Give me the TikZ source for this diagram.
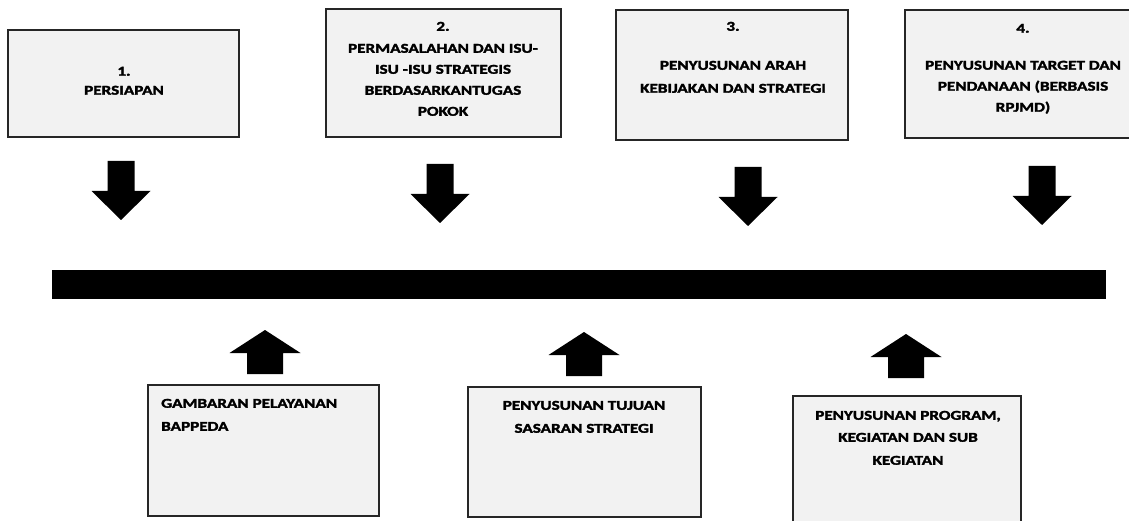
\documentclass[tikz,border=0pt]{standalone}
\usepackage{fontspec}
\newfontfamily\boxfont[FakeStretch=1.27,FakeBold=2.2]{Carlito}
\begin{document}
\begin{tikzpicture}[x=1pt,y=-1pt,
  box/.style={draw=black!85,line width=1.6pt,fill=black!5,inner sep=0pt},
  lbl/.style={font=\boxfont\bfseries\fontsize{13.5}{21}\selectfont,align=center,inner sep=0pt,anchor=north,text=black},
  lbll/.style={lbl,align=left,anchor=north west},
  downarrow/.pic={\fill[black] (-13.5,0) -- (13.5,0) -- (13.5,30) -- (29.5,30) -- (0,59) -- (-29.5,30) -- (-13.5,30) -- cycle;},
  uparrow/.pic={\fill[black] (0,0) -- (35.5,23) -- (18,23) -- (18,44) -- (-18,44) -- (-18,23) -- (-35.5,23) -- cycle;}
]
\useasboundingbox[fill=white] (0,0) rectangle (1129,521);

% top boxes
\node[box,minimum width=231pt,minimum height=107pt] (b1) at (123.5,83.5) {};
\node[box,minimum width=235pt,minimum height=128pt] (b2) at (443.5,73) {};
\node[box,minimum width=232pt,minimum height=130pt] (b3) at (732,75) {};
\node[box,minimum width=236pt,minimum height=128pt] (b4) at (1023,74) {};

\node[lbl] (t1) at (124,66.7) {1.\\[-2pt]PERSIAPAN};
\node[lbl] (t2) at (443,21.7) {2.\\[1pt]PERMASALAHAN DAN ISU-\\ISU -ISU STRATEGIS\\BERDASARKANTUGAS\\POKOK};
\node[lbl] (t3) at (733,21.7) {3.\\[18pt]PENYUSUNAN ARAH\\[2pt]KEBIJAKAN DAN STRATEGI};
\node[lbl] (t4) at (1023,23.7) {4.\\[16pt]PENYUSUNAN TARGET DAN\\PENDANAAN (BERBASIS\\RPJMD)};

% down arrows
\pic (d1) at (121,161) {downarrow};
\pic (d2) at (440,164) {downarrow};
\pic (d3) at (748,167) {downarrow};
\pic (d4) at (1042,166) {downarrow};

% bar
\node[fill=black,minimum width=1054pt,minimum height=29pt,inner sep=0pt] (bar) at (579,284.5) {};

% up arrows
\pic (u1) at (265,330) {uparrow};
\pic (u2) at (584,332) {uparrow};
\pic (u3) at (906,334) {uparrow};

% bottom boxes
\node[box,minimum width=231pt,minimum height=131pt] (b5) at (263.5,450.5) {};
\node[box,minimum width=233pt,minimum height=130pt] (b6) at (584.5,452) {};
\node[box,minimum width=228pt,minimum height=134pt] (b7) at (907,463) {};

\node[lbll] (t5) at (161,398.7) {GAMBARAN PELAYANAN\\[2pt]BAPPEDA};
\node[lbl] (t6) at (584,400.7) {PENYUSUNAN TUJUAN\\[2pt]SASARAN STRATEGI};
\node[lbl] (t7) at (908,410.7) {PENYUSUNAN PROGRAM,\\[1pt]KEGIATAN DAN SUB\\[2pt]KEGIATAN};
\end{tikzpicture}
\end{document}
